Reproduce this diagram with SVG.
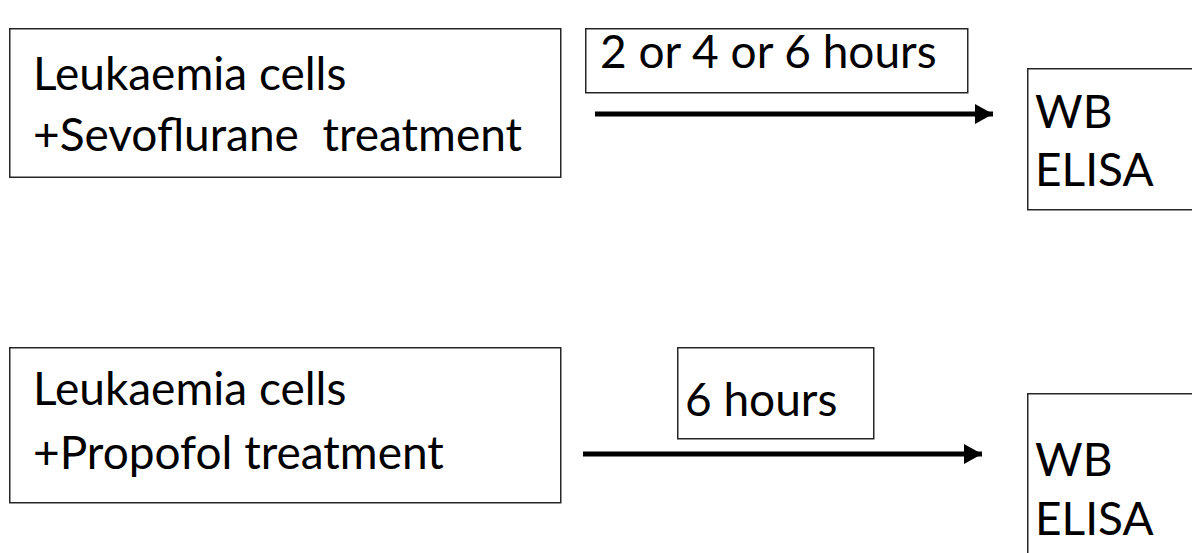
<svg xmlns="http://www.w3.org/2000/svg" width="1192" height="553" viewBox="0 0 1192 553">
  <style>
    .box { fill: #ffffff; stroke: #262626; stroke-width: 1.5; }
    .lbl { font-family: Lato, "Open Sans", "Liberation Sans", sans-serif; font-size: 46px; fill: #000000; }
    .flow { stroke: #000000; stroke-width: 5; fill: none; }
  </style>
  <defs>
    <marker id="head" markerUnits="userSpaceOnUse" markerWidth="19" markerHeight="20" refX="18" refY="10" orient="auto">
      <path d="M0,0 L18,10 L0,20 Z" fill="#000000"/>
    </marker>
  </defs>
  <rect width="1192" height="553" fill="#ffffff"/>

  <!-- upper row: sevoflurane -->
  <g id="sevo-cells">
    <rect class="box" x="9.75" y="28.75" width="551" height="148.5"/>
    <text class="lbl" x="33" y="90">Leukaemia cells</text>
    <text class="lbl" x="33" y="151" xml:space="preserve">+Sevoflurane  treatment</text>
  </g>
  <g id="sevo-time">
    <rect class="box" x="585.75" y="28.75" width="382" height="64"/>
    <text class="lbl" x="600" y="68">2 or 4 or 6 hours</text>
  </g>
  <g id="sevo-assay">
    <rect class="box" x="1027.75" y="68.75" width="180" height="141"/>
    <text class="lbl" x="1035" y="128">WB</text>
    <text class="lbl" x="1035" y="186">ELISA</text>
  </g>

  <!-- lower row: propofol -->
  <g id="prop-cells">
    <rect class="box" x="9.75" y="347.75" width="551" height="155"/>
    <text class="lbl" x="33" y="405">Leukaemia cells</text>
    <text class="lbl" x="33" y="469">+Propofol treatment</text>
  </g>
  <g id="prop-time">
    <rect class="box" x="677.75" y="347.75" width="196" height="91"/>
    <text class="lbl" x="685" y="416">6 hours</text>
  </g>
  <g id="prop-assay">
    <rect class="box" x="1027.75" y="393.75" width="180" height="180"/>
    <text class="lbl" x="1035" y="476">WB</text>
    <text class="lbl" x="1035" y="535">ELISA</text>
  </g>

  <g id="connectors">
    <line class="flow" x1="595" y1="114" x2="993" y2="114" marker-end="url(#head)"/>
    <line class="flow" x1="583" y1="454" x2="982" y2="454" marker-end="url(#head)"/>
  </g>
</svg>
